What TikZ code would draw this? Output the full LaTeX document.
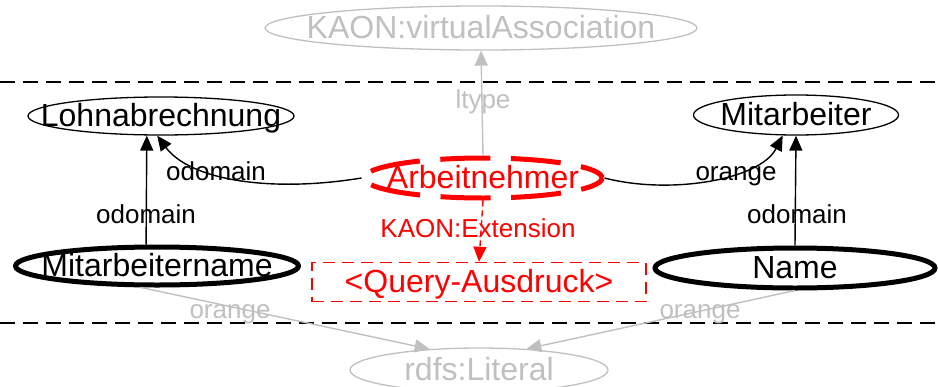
\documentclass[tikz,border=0pt]{standalone}
\usepackage{fontspec}
\setmainfont{Liberation Sans}
\usetikzlibrary{shapes.geometric,arrows.meta}
\definecolor{fadegray}{HTML}{C0C0C0}
\definecolor{hotred}{HTML}{FF0000}
% text that may overhang the outline of its node
\newcommand\overhang[1]{\makebox[0pt]{#1}}
\begin{document}
\begin{tikzpicture}[x=1pt,y=-1pt,
  bigtxt/.style={font=\fontsize{32pt}{38pt}\selectfont, text height=23pt, text depth=3pt, inner sep=0pt},
  lbl/.style={font=\fontsize{26pt}{30pt}\selectfont, anchor=base, inner sep=0pt},
  cls/.style={ellipse, draw, bigtxt, line width=1.3pt},
  fatcls/.style={ellipse, draw, bigtxt, line width=5pt},
  ghost/.style={ellipse, draw=fadegray, text=fadegray, bigtxt, line width=1.3pt},
  tip/.style={-{Triangle[length=15pt,width=13pt]}},
  rel/.style={tip, line width=1.4pt},
  ghostrel/.style={tip, draw=fadegray, fill=fadegray, line width=1.4pt},
  sep/.style={dash pattern=on 15pt off 8pt, line width=1.6pt}
]
\useasboundingbox (0,0) rectangle (938,386);

% layer separators
\draw[sep] (0,82) -- (938,82);
\draw[sep] (0,323) -- (938,323);

% concepts
\node[ghost, minimum width=432pt, minimum height=44pt] (va) at (481,28) {\overhang{KAON:virtualAssociation}};
\node[cls, minimum width=266pt, minimum height=38pt] (lohn) at (161,116) {\overhang{Lohnabrechnung}};
\node[cls, minimum width=205pt, minimum height=40pt] (mitar) at (796,115) {\overhang{Mitarbeiter}};
\node[ellipse, draw=hotred, text=hotred, bigtxt, line width=5pt,
      dash pattern=on 50pt off 20.6pt, dash phase=25pt,
      minimum width=238pt, minimum height=40pt] (arb) at (483,178) {\overhang{Arbeitnehmer}};
\node[fatcls, minimum width=283pt, minimum height=38pt] (mname) at (157,266) {\overhang{Mitarbeitername}};
\node[fatcls, minimum width=280pt, minimum height=40pt] (name) at (795,268) {\overhang{Name}};
\node[rectangle, draw=hotred, text=hotred, bigtxt, line width=1.4pt,
      dash pattern=on 12pt off 7pt,
      minimum width=334pt, minimum height=39pt] (query) at (479,282) {\overhang{<Query-Ausdruck>}};
\node[ghost, minimum width=258pt, minimum height=44pt] (lit) at (479,370) {\overhang{rdfs:Literal}};

% relations
\draw[ghostrel] (arb.north) -- (va.south);
\draw[rel] (mname.117.8) -- (lohn.-126.4);
\draw[rel] (arb.west) .. controls (270,193) and (190,180) .. (lohn.-101.9);
\draw[rel] (arb.east) .. controls (670,195) and (760,180) .. (mitar.-123);
\draw[rel] (name.north) -- (mitar.south);
\draw[tip, draw=hotred, fill=hotred, line width=1.4pt, dash pattern=on 6pt off 4pt] (arb.south) -- (query.north);
\draw[ghostrel] (mname.-128) -- (lit.157);
\draw[ghostrel] (name.south) -- (lit.24);

% relation labels
\node[lbl, text=fadegray] (l1) at (483,108) {ltype};
\node[lbl] (l2) at (216,180) {odomain};
\node[lbl] (l3) at (146,223) {odomain};
\node[lbl] (l4) at (736,180) {orange};
\node[lbl] (l5) at (797,223) {odomain};
\node[lbl, text=hotred] (l6) at (478,237) {KAON:Extension};
\node[lbl, text=fadegray] (l7) at (230,318) {orange};
\node[lbl, text=fadegray] (l8) at (700,318) {orange};
\end{tikzpicture}
\end{document}
